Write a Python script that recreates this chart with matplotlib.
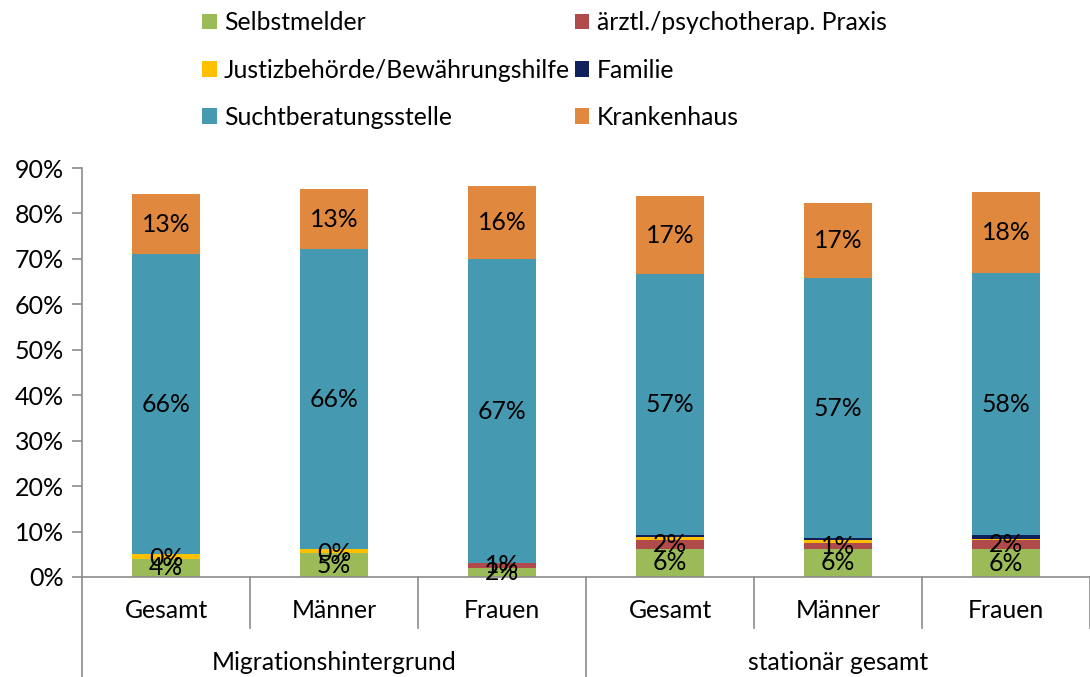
import matplotlib
matplotlib.use("Agg")
import matplotlib.pyplot as plt
from matplotlib.patches import Patch
import numpy as np

plt.rcParams['font.family'] = ['Lato', 'DejaVu Sans']

categories = ["Gesamt", "Männer", "Frauen", "Gesamt", "Männer", "Frauen"]
groups = ["Migrationshintergrund", "stationär gesamt"]

series_names = ["Selbstmelder", "ärztl./psychotherap. Praxis", "Justizbehörde/Bewährungshilfe",
                "Familie", "Suchtberatungsstelle", "Krankenhaus"]
selbstmelder = [4.0, 5.2, 2.0, 6.2, 6.2, 6.1]
aerztl = [0.0, 0.0, 1.0, 1.9, 1.2, 2.0]
justiz = [1.0, 0.9, 0.0, 0.6, 0.8, 0.3]
familie = [0.0, 0.0, 0.0, 0.6, 0.3, 0.8]
sucht = [66.0, 66.0, 67.0, 57.4, 57.2, 57.6]
krankenhaus = [13.3, 13.2, 16.0, 17.1, 16.6, 18.0]
# which series carry data labels
labelled = [True, True, False, False, True, True]

colors = ["#9bbb59", "#b14a4a", "#ffc000", "#0e1f5b", "#4599b1", "#e0893e"]
values = [selbstmelder, aerztl, justiz, familie, sucht, krankenhaus]

FS = 17.8

fig = plt.figure(figsize=(10.9, 6.77), dpi=100)
ax = fig.add_axes([82 / 1090, 100 / 677, 1008 / 1090, 409 / 677])

x = np.arange(len(categories))
bottom = np.zeros(len(categories))
for name, vals, col, lab in zip(series_names, values, colors, labelled):
    vals = np.array(vals)
    ax.bar(x, vals, bottom=bottom, width=0.41, color=col, edgecolor="none")
    if lab:
        for xi, b, v in zip(x, bottom, vals):
            ax.text(xi, b + v / 2, f"{v:.0f}%", ha="center", va="center", fontsize=FS, color="black")
    bottom += vals

ax.set_xlim(-0.5, len(categories) - 0.5)
ax.set_ylim(0, 90)
ax.set_yticks(range(0, 91, 10))
ax.set_yticklabels([f"{t}%" for t in range(0, 91, 10)], fontsize=18)
ax.set_xticks([])
for s in ["top", "right"]:
    ax.spines[s].set_visible(False)
for s in ["left", "bottom"]:
    ax.spines[s].set_color("#8c8c8c")
    ax.spines[s].set_linewidth(1.2)
ax.tick_params(axis="y", color="#8c8c8c", length=7, width=1.2, pad=6)

# category separators
for k in range(len(categories) + 1):
    xs = k - 0.5
    long_line = k in (0, 3)
    y_end = -0.245 if long_line else -0.125
    ax.plot([xs, xs], [0, y_end], transform=ax.get_xaxis_transform(), color="#8c8c8c",
            lw=1.2, clip_on=False)
for xi, c in zip(x, categories):
    ax.text(xi, -0.083, c, transform=ax.get_xaxis_transform(), ha="center", va="center", fontsize=FS)
for gi, g in enumerate(groups):
    ax.text(gi * 3 + 1, -0.208, g, transform=ax.get_xaxis_transform(), ha="center", va="center", fontsize=FS)

handles = [Patch(facecolor=c, edgecolor="none", label=n) for n, c in zip(series_names, colors)]
order = [0, 2, 4, 1, 3, 5]
fig.legend([handles[i] for i in order], [series_names[i] for i in order], ncol=2,
           loc="upper left", bbox_to_anchor=(180 / 1090, 1.016), frameon=False,
           fontsize=FS, handlelength=0.58, handleheight=0.58, handletextpad=0.3,
           columnspacing=0.2, labelspacing=0.98)

fig.savefig("out.png", dpi=100)
